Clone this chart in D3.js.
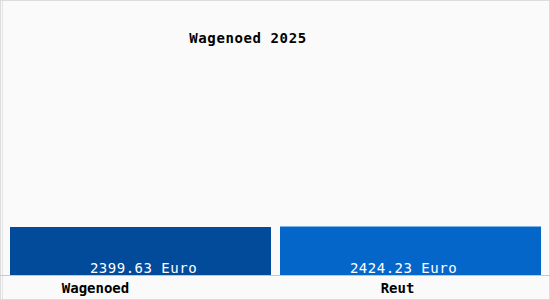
<!DOCTYPE html>
<html>
<head>
<meta charset="utf-8">
<script src="https://cdn.jsdelivr.net/npm/d3@7"></script>
<style>
  body { margin: 0; background: #fff; }
  svg { display: block; }
</style>
</head>
<body>
<svg id="chart"></svg>
<script>
// data
const categories = ['Wagenoed', 'Reut'];
const values = [2399.63, 2424.23];
const valueLabels = ['2399.63 Euro', '2424.23 Euro'];
const title = 'Wagenoed 2025';

const W = 550, H = 300;
const font = '"DejaVu Sans Mono", monospace';
const barColors = ['#024a9a', '#0566ca'];

const svg = d3.select('#chart').attr('width', W).attr('height', H);

// background + frame
svg.append('rect')
    .attr('x', 0.5).attr('y', 0.5)
    .attr('width', W - 1).attr('height', H - 1)
    .attr('fill', '#fafafa')
    .attr('stroke', '#dcdcdc');
svg.append('line')
    .attr('x1', 2.5).attr('x2', 2.5)
    .attr('y1', 1).attr('y2', H - 1)
    .attr('stroke', '#e6e6e6');

// scales
const x = d3.scaleBand()
    .domain(categories)
    .range([10, 541])
    .paddingInner(9 / 270);

const y = d3.scaleLinear()
    .domain([0, 12000])
    .range([275, 35]);

// bars
svg.selectAll('.bar')
    .data(categories)
    .enter()
    .append('rect')
    .attr('class', 'bar')
    .attr('x', d => x(d))
    .attr('width', x.bandwidth())
    .attr('y', (d, i) => y(values[i]))
    .attr('height', (d, i) => y(0) - y(values[i]))
    .attr('fill', (d, i) => barColors[i]);

// baseline
svg.append('line')
    .attr('x1', 0).attr('x2', W)
    .attr('y1', 275.5).attr('y2', 275.5)
    .attr('stroke', '#c8c8c8');

// value labels (nudged toward the middle like the original)
const valueShift = [3, -7];
svg.selectAll('.val')
    .data(categories)
    .enter()
    .append('text')
    .attr('class', 'val')
    .attr('x', (d, i) => x(d) + x.bandwidth() / 2 + valueShift[i])
    .attr('y', 273)
    .attr('text-anchor', 'middle')
    .style('font-family', font)
    .style('font-size', '14px')
    .style('letter-spacing', '0.5px')
    .style('fill', '#fff')
    .text((d, i) => valueLabels[i]);

// category labels
const catShift = [-45, -13];
svg.selectAll('.cat')
    .data(categories)
    .enter()
    .append('text')
    .attr('class', 'cat')
    .attr('x', (d, i) => x(d) + x.bandwidth() / 2 + catShift[i])
    .attr('y', 293)
    .attr('text-anchor', 'middle')
    .style('font-family', font)
    .style('font-size', '14px')
    .style('font-weight', 'bold')
    .style('fill', '#000')
    .text(d => d);

// title
svg.append('text')
    .attr('x', 248)
    .attr('y', 43)
    .attr('text-anchor', 'middle')
    .style('font-family', font)
    .style('font-size', '14px')
    .style('font-weight', 'bold')
    .style('letter-spacing', '0.6px')
    .style('fill', '#000')
    .text(title);
</script>
</body>
</html>
